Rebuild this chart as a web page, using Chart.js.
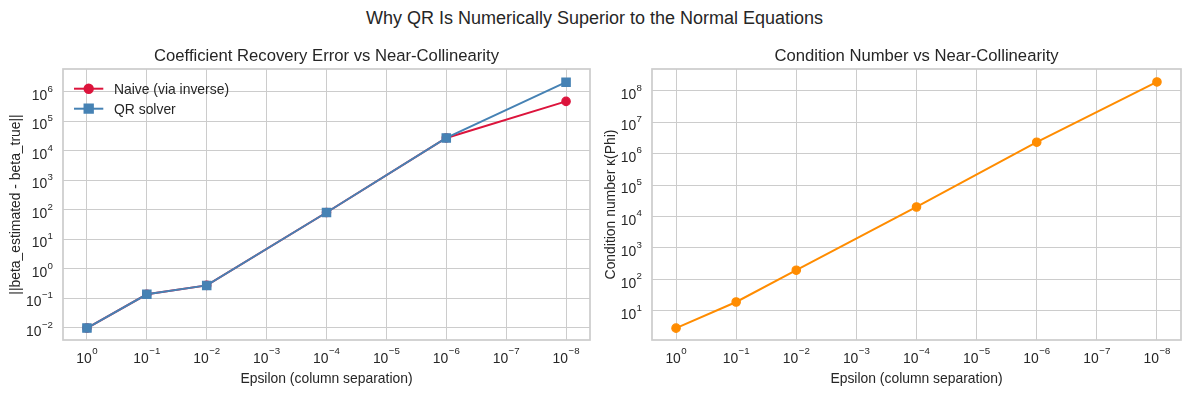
<!DOCTYPE html>
<html>
<head>
<meta charset="utf-8">
<script src="https://cdn.jsdelivr.net/npm/chart.js@4.4.1/dist/chart.umd.min.js"></script>
<style>
  html, body { margin: 0; padding: 0; background: #ffffff; }
  #fig { position: relative; width: 1189px; height: 396px; overflow: hidden; background: #fff; }
  #suptitle { position: absolute; left: 0; top: 9.3px; width: 1189px; text-align: center;
    font-family: 'Liberation Sans', Arial, Helvetica, sans-serif; font-size: 18px; line-height: 18px; color: #262626; }
  canvas { position: absolute; top: 0; }
</style>
</head>
<body>
<div id="fig">
  <div id="suptitle">Why QR Is Numerically Superior to the Normal Equations</div>
  <canvas id="c1" width="600" height="396" style="left:0px"></canvas>
  <canvas id="c2" width="589" height="396" style="left:600px"></canvas>
</div>
<script>
// ---------------- data ----------------
const epsilons = [1, 1e-1, 1e-2, 1e-4, 1e-6, 1e-8];
const naiveError = [0.0097, 0.135, 0.27, 80, 27000, 470000];
const qrError = [0.0097, 0.135, 0.27, 80, 27000, 2.1e6];
const conditionNumber = [2.8, 19, 195, 2.0e4, 2.3e6, 1.9e8];

const xTickValues = [1, 1e-1, 1e-2, 1e-3, 1e-4, 1e-5, 1e-6, 1e-7, 1e-8];
const xTickExponents = ['0', '\u22121', '\u22122', '\u22123', '\u22124', '\u22125', '\u22126', '\u22127', '\u22128'];
const yTickValuesError = [1e-2, 1e-1, 1, 1e1, 1e2, 1e3, 1e4, 1e5, 1e6];
const yTickExponentsError = ['\u22122', '\u22121', '0', '1', '2', '3', '4', '5', '6'];
const yTickValuesCond = [1e1, 1e2, 1e3, 1e4, 1e5, 1e6, 1e7, 1e8];
const yTickExponentsCond = ['1', '2', '3', '4', '5', '6', '7', '8'];

const seriesLabels = ['Naive (via inverse)', 'QR solver'];
const titles = ['Coefficient Recovery Error vs Near-Collinearity', 'Condition Number vs Near-Collinearity'];
const xLabel = 'Epsilon (column separation)';
const yLabels = ['||beta_estimated - beta_true||', 'Condition number \u03ba(Phi)'];

// ---------------- style ----------------
const FONT = "'Liberation Sans', Arial, Helvetica, sans-serif";
const TEXT = '#262626';
const GRID = '#cccccc';
Chart.defaults.color = TEXT;
Chart.defaults.font.family = FONT;

const toXY = (ys) => epsilons.map((e, i) => ({ x: e, y: ys[i] }));

function drawPow(ctx, exp, x, y, align) {
  ctx.font = `13.9px ${FONT}`;
  const w1 = ctx.measureText('10').width;
  ctx.font = `9.7px ${FONT}`;
  const w2 = ctx.measureText(exp).width;
  const total = w1 + w2 + 0.5;
  const x0 = align === 'center' ? x - total / 2 : x - total;
  ctx.textAlign = 'left';
  ctx.textBaseline = 'alphabetic';
  ctx.fillStyle = TEXT;
  ctx.font = `13.9px ${FONT}`;
  ctx.fillText('10', x0, y);
  ctx.font = `9.7px ${FONT}`;
  ctx.fillText(exp, x0 + w1 + 0.5, y - 8.4);
}

const decorPlugin = {
  id: 'decor',
  beforeDatasetsDraw(chart) {
    const { ctx, chartArea: a } = chart;
    ctx.save();
    ctx.strokeStyle = GRID;
    ctx.lineWidth = 1.7;
    ctx.strokeRect(a.left, a.top, a.right - a.left, a.bottom - a.top);
    ctx.restore();
  },
  afterDraw(chart, args, opts) {
    const { ctx, chartArea: a } = chart;
    ctx.save();
    // subplot title
    ctx.fillStyle = TEXT;
    ctx.font = `16.67px ${FONT}`;
    ctx.textAlign = 'center';
    ctx.textBaseline = 'alphabetic';
    ctx.fillText(opts.title, (a.left + a.right) / 2, a.top - 8.3);
    // tick labels (mathtext-like 10^n)
    const xs = chart.scales.x, ys = chart.scales.y;
    xTickValues.forEach((v, i) => {
      drawPow(ctx, xTickExponents[i], xs.getPixelForValue(v), a.bottom + 22.7, 'center');
    });
    opts.yTicks.forEach((v, i) => {
      drawPow(ctx, opts.yExps[i], a.left - 10, ys.getPixelForValue(v) + 8.3, 'right');
    });
    // legend
    if (opts.legend) {
      chart.data.datasets.forEach((ds, i) => {
        const ly = a.top + 19.7 + i * 20;
        const lx = a.left + 11;
        ctx.strokeStyle = ds.borderColor;
        ctx.lineWidth = ds.borderWidth;
        ctx.beginPath();
        ctx.moveTo(lx, ly);
        ctx.lineTo(lx + 29.3, ly);
        ctx.stroke();
        ctx.fillStyle = ds.pointBackgroundColor;
        ctx.strokeStyle = ds.pointBorderColor;
        Chart.helpers.drawPoint(ctx, {
          pointStyle: ds.pointStyle, radius: ds.pointRadius,
          borderWidth: ds.pointBorderWidth, rotation: 0
        }, lx + 14.7, ly);
        ctx.fillStyle = TEXT;
        ctx.font = `13.9px ${FONT}`;
        ctx.textAlign = 'left';
        ctx.textBaseline = 'alphabetic';
        ctx.fillText(ds.label, a.left + 51, ly + 5);
      });
    }
    ctx.restore();
  }
};

function makeOptions(cfg) {
  return {
    responsive: false,
    animation: false,
    events: [],
    layout: { padding: { top: 69, right: cfg.padRight, left: 0, bottom: 0 } },
    plugins: {
      legend: { display: false },
      tooltip: { enabled: false },
      title: { display: false },
      decor: { title: cfg.title, yTicks: cfg.yTicks, yExps: cfg.yExps, legend: cfg.legend }
    },
    scales: {
      x: {
        type: 'logarithmic',
        reverse: true,
        min: Math.pow(10, -8.4),
        max: Math.pow(10, 0.4),
        afterBuildTicks: (s) => { s.ticks = xTickValues.map(v => ({ value: v })); },
        afterFit: (s) => { s.height = 56; },
        ticks: { display: false },
        grid: { color: GRID, lineWidth: 1, drawTicks: false },
        border: { display: false },
        title: {
          display: true, text: xLabel, color: TEXT,
          font: { family: FONT, size: 13.9 }, padding: { top: 0, bottom: 8 }
        }
      },
      y: {
        type: 'logarithmic',
        min: cfg.yMin,
        max: cfg.yMax,
        afterBuildTicks: (s) => { s.ticks = cfg.yTicks.map(v => ({ value: v })); },
        afterFit: (s) => { s.width = cfg.yWidth; },
        ticks: { display: false },
        grid: { color: GRID, lineWidth: 1, drawTicks: false },
        border: { display: false },
        title: {
          display: true, text: cfg.yLabel, color: TEXT,
          font: { family: FONT, size: 13.9 }, padding: { top: cfg.yTitlePad, bottom: 0 }
        }
      }
    }
  };
}

const lineBase = { borderWidth: 2, tension: 0, fill: false, pointBorderWidth: 1.2 };

new Chart(document.getElementById('c1'), {
  type: 'line',
  data: {
    datasets: [
      Object.assign({}, lineBase, {
        label: seriesLabels[0], data: toXY(naiveError),
        borderColor: '#dc143c', backgroundColor: '#dc143c',
        pointBackgroundColor: '#dc143c', pointBorderColor: '#dc143c',
        pointStyle: 'circle', pointRadius: 4.2, pointHoverRadius: 4.2, order: 2
      }),
      Object.assign({}, lineBase, {
        label: seriesLabels[1], data: toXY(qrError),
        borderColor: '#4682b4', backgroundColor: '#4682b4',
        pointBackgroundColor: '#4682b4', pointBorderColor: '#4682b4',
        pointStyle: 'rect', pointRadius: 5.9, pointHoverRadius: 5.9, order: 1
      })
    ]
  },
  options: makeOptions({
    padRight: 10, title: titles[0], yLabel: yLabels[0], yTitlePad: 7.7, yWidth: 63,
    yMin: Math.pow(10, -2.42), yMax: Math.pow(10, 6.77),
    yTicks: yTickValuesError, yExps: yTickExponentsError, legend: true
  }),
  plugins: [decorPlugin]
});

new Chart(document.getElementById('c2'), {
  type: 'line',
  data: {
    datasets: [
      Object.assign({}, lineBase, {
        label: 'Condition number', data: toXY(conditionNumber),
        borderColor: '#ff8c00', backgroundColor: '#ff8c00',
        pointBackgroundColor: '#ff8c00', pointBorderColor: '#ff8c00',
        pointStyle: 'circle', pointRadius: 4.2, pointHoverRadius: 4.2
      })
    ]
  },
  options: makeOptions({
    padRight: 8, title: titles[1], yLabel: yLabels[1], yTitlePad: 3.2, yWidth: 52,
    yMin: Math.pow(10, 0.07), yMax: Math.pow(10, 8.69),
    yTicks: yTickValuesCond, yExps: yTickExponentsCond, legend: false
  }),
  plugins: [decorPlugin]
});
</script>
</body>
</html>
